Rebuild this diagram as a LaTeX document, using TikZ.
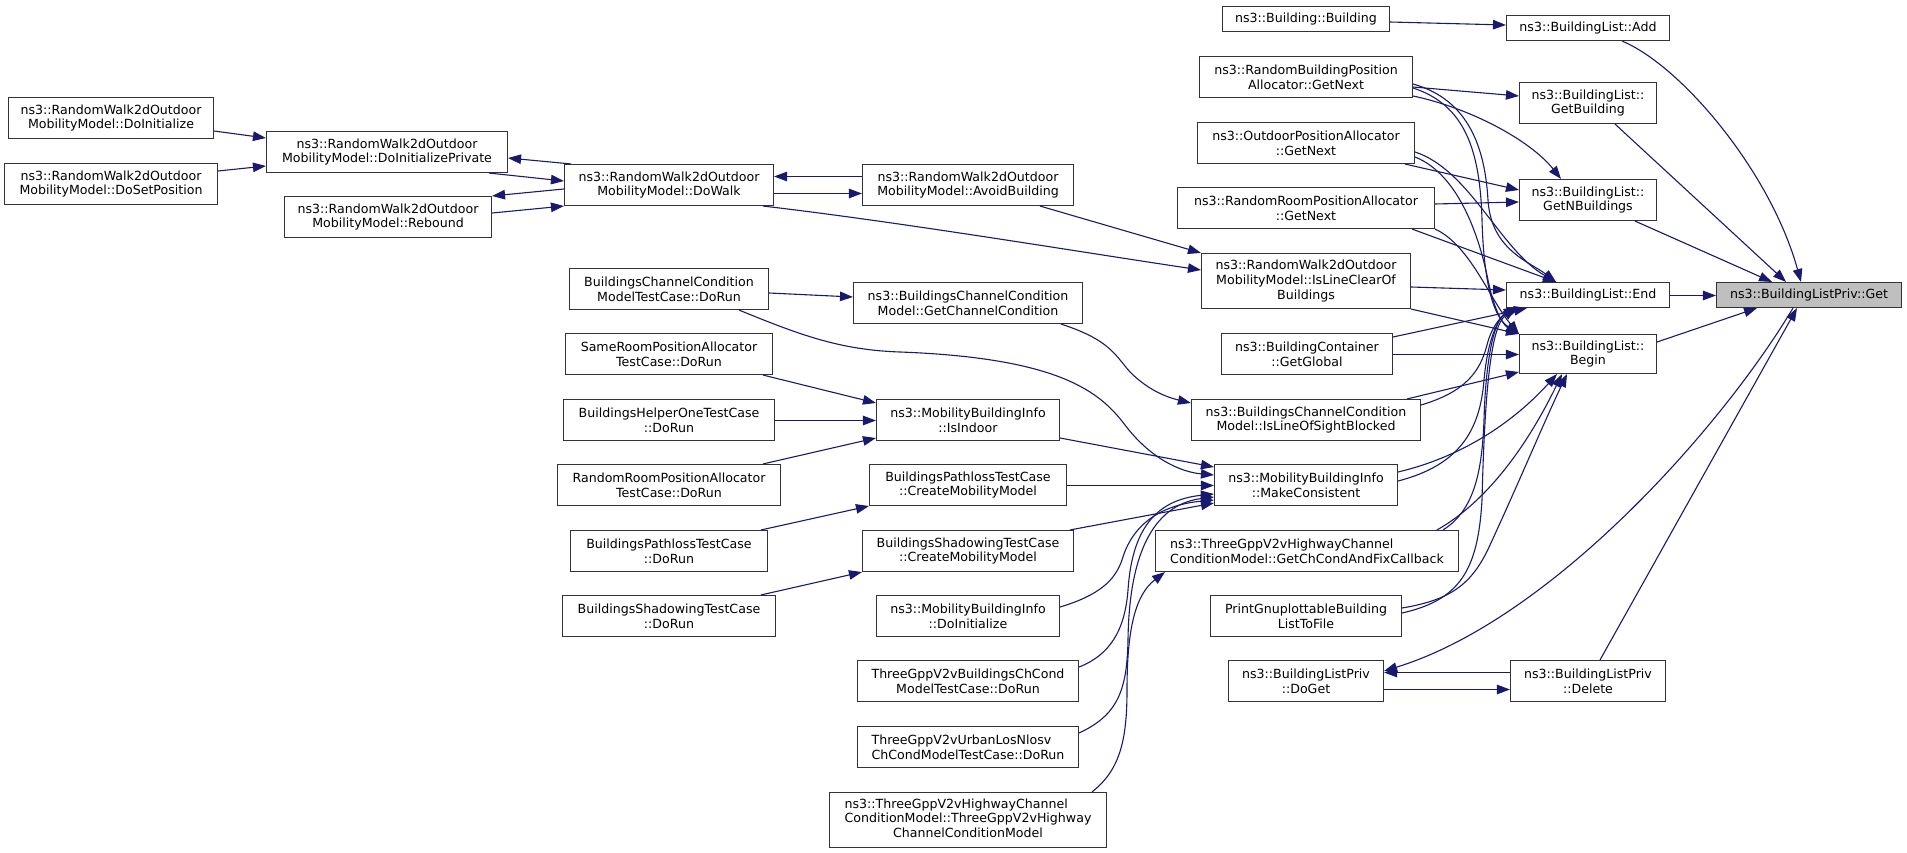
\documentclass[tikz,border=0pt]{standalone}
\usepackage{fontspec}
\setmainfont{DejaVu Sans}
\usetikzlibrary{arrows.meta}
\definecolor{navyblue}{HTML}{191970}
\definecolor{getgray}{HTML}{BFBFBF}
\definecolor{boxline}{HTML}{333333}
\newcommand\fnfont{\fontsize{12.6}{14.8}\selectfont}
\tikzset{
  fn/.style={draw=boxline, line width=1.1pt, rectangle, inner sep=0pt, align=center, font=\fnfont, fill=white},
  sz/.style 2 args={minimum width=#1pt, minimum height=#2pt},
  callarrow/.style={draw=navyblue, line width=1.1pt, -{Triangle[length=13pt,width=9.5pt]}},
}
\begin{document}
\begin{tikzpicture}[x=1pt,y=-1pt]
\fill[white] (0,0) rectangle (1907,853);
\useasboundingbox (0,0) rectangle (1907,853);

% rank 0 / 1
\node[fn, sz={185}{25}, fill=getgray] (get) at (1809,295) {ns3::BuildingListPriv::Get};
\node[fn, sz={163}{25}] (add) at (1588,28) {ns3::BuildingList::Add};
\node[fn, sz={137}{41}] (getb) at (1588,103) {ns3::BuildingList::\\GetBuilding};
\node[fn, sz={137}{41}] (getnb) at (1588,200) {ns3::BuildingList::\\GetNBuildings};
\node[fn, sz={163}{25}] (endn) at (1588,295) {ns3::BuildingList::End};
\node[fn, sz={137}{39}] (begin) at (1588,354) {ns3::BuildingList::\\Begin};
\node[fn, sz={155}{41}] (del) at (1588,681) {ns3::BuildingListPriv\\::Delete};

% rank 2
\node[fn, sz={167}{25}] (bb) at (1306,19) {ns3::Building::Building};
\node[fn, sz={213}{41}] (rbpa) at (1306,77) {ns3::RandomBuildingPosition\\Allocator::GetNext};
\node[fn, sz={217}{41}] (opa) at (1306,143) {ns3::OutdoorPositionAllocator\\::GetNext};
\node[fn, sz={257}{41}] (rrpa) at (1306,208) {ns3::RandomRoomPositionAllocator\\::GetNext};
\node[fn, sz={209}{55}] (ilc) at (1306,281) {ns3::RandomWalk2dOutdoor\\MobilityModel::IsLineClearOf\\Buildings};
\node[fn, sz={171}{41}] (glob) at (1307,354) {ns3::BuildingContainer\\::GetGlobal};
\node[fn, sz={229}{41}] (los) at (1306,420) {ns3::BuildingsChannelCondition\\Model::IsLineOfSightBlocked};
\node[fn, sz={183}{41}] (mc) at (1306,485) {ns3::MobilityBuildingInfo\\::MakeConsistent};
\node[fn, sz={303}{41}, align=left] (gcc) at (1307,551) {ns3::ThreeGppV2vHighwayChannel\\ConditionModel::GetChCondAndFixCallback};
\node[fn, sz={191}{41}] (pgf) at (1306,616) {PrintGnuplottableBuilding\\ListToFile};
\node[fn, sz={155}{41}] (doget) at (1306,681) {ns3::BuildingListPriv\\::DoGet};

% rank 3
\node[fn, sz={211}{41}] (avoid) at (968,185) {ns3::RandomWalk2dOutdoor\\MobilityModel::AvoidBuilding};
\node[fn, sz={229}{41}] (gchc) at (968,303) {ns3::BuildingsChannelCondition\\Model::GetChannelCondition};
\node[fn, sz={183}{41}] (indoor) at (968,420) {ns3::MobilityBuildingInfo\\::IsIndoor};
\node[fn, sz={197}{41}] (bpcm) at (968,485) {BuildingsPathlossTestCase\\::CreateMobilityModel};
\node[fn, sz={211}{41}] (bscm) at (968,551) {BuildingsShadowingTestCase\\::CreateMobilityModel};
\node[fn, sz={183}{41}] (mbid) at (968,616) {ns3::MobilityBuildingInfo\\::DoInitialize};
\node[fn, sz={221}{41}] (tgb) at (968,681) {ThreeGppV2vBuildingsChCond\\ModelTestCase::DoRun};
\node[fn, sz={221}{41}, align=left] (tgu) at (968,747) {ThreeGppV2vUrbanLosNlosv\\ChCondModelTestCase::DoRun};
\node[fn, sz={277}{55}] (tgh) at (968,820) {\begin{tabular}{@{}l@{}}ns3::ThreeGppV2vHighwayChannel\\ConditionModel::ThreeGppV2vHighway\\\multicolumn{1}{@{}c@{}}{ChannelConditionModel}\end{tabular}};

% rank 4
\node[fn, sz={209}{41}] (walk) at (669,185) {ns3::RandomWalk2dOutdoor\\MobilityModel::DoWalk};
\node[fn, sz={199}{41}] (bcct) at (669,289) {BuildingsChannelCondition\\ModelTestCase::DoRun};
\node[fn, sz={207}{41}] (srpa) at (669,354) {SameRoomPositionAllocator\\TestCase::DoRun};
\node[fn, sz={211}{41}] (bho) at (669,420) {BuildingsHelperOneTestCase\\::DoRun};
\node[fn, sz={223}{41}] (rrpt) at (669,485) {RandomRoomPositionAllocator\\TestCase::DoRun};
\node[fn, sz={197}{41}] (bpt) at (669,551) {BuildingsPathlossTestCase\\::DoRun};
\node[fn, sz={213}{41}] (bst) at (669,616) {BuildingsShadowingTestCase\\::DoRun};

% rank 5 / 6
\node[fn, sz={241}{41}] (dip) at (387,152) {ns3::RandomWalk2dOutdoor\\MobilityModel::DoInitializePrivate};
\node[fn, sz={207}{41}] (reb) at (388,217) {ns3::RandomWalk2dOutdoor\\MobilityModel::Rebound};
\node[fn, sz={205}{41}] (dini) at (111,118) {ns3::RandomWalk2dOutdoor\\MobilityModel::DoInitialize};
\node[fn, sz={213}{41}] (dsp) at (111,184) {ns3::RandomWalk2dOutdoor\\MobilityModel::DoSetPosition};

% left cluster edges
\draw[callarrow] (dini.east |- 0,131) -- (dip.west |- 0,138);
\draw[callarrow] (dsp.east |- 0,171) -- (dip.west |- 0,166);
\draw[callarrow] (571,0 |- walk.north) -- (dip.east |- 0,158);
\draw[callarrow] (489,0 |- dip.south) -- (walk.west |- 0,181);
\draw[callarrow] (walk.west |- 0,189) -- (reb.north east);
\draw[callarrow] (reb.east |- 0,213) -- (walk.south west);
\draw[callarrow] (avoid.west |- 0,176.5) -- (walk.east |- 0,176.5);
\draw[callarrow] (walk.east |- 0,193.5) -- (avoid.west |- 0,193.5);
\draw[callarrow] (763,0 |- walk.south) .. controls (900,222) and (1080,252) .. (ilc.west |- 0,270);
\draw[callarrow] (1040,0 |- avoid.south) -- (ilc.north west);

\draw[callarrow] (bcct.east |- 0,293) -- (gchc.west |- 0,297);
\draw[callarrow] (739,0 |- bcct.south) .. controls (800,335) and (840,350) .. (900,352) .. controls (1060,358) and (1100,392) .. (1125,425) .. controls (1150,458) and (1180,472) .. (mc.west |- 0,475);
\draw[callarrow] (1061,0 |- gchc.south) .. controls (1110,340) and (1115,355) .. (1130,372) .. controls (1150,392) and (1170,398) .. (los.west |- 0,403);
\draw[callarrow] (763,0 |- srpa.south) -- (indoor.west |- 0,403);
\draw[callarrow] (bho.east |- 0,420.5) -- (indoor.west |- 0,420.5);
\draw[callarrow] (763,0 |- rrpt.north) -- (indoor.west |- 0,438);
\draw[callarrow] (indoor.east |- 0,438) -- (mc.west |- 0,467);
\draw[callarrow] (bpcm.east |- 0,485.5) -- (mc.west |- 0,485.5);
\draw[callarrow] (1070,0 |- bscm.north) -- (mc.west |- 0,503);
\draw[callarrow] (761,0 |- bpt.north) -- (bpcm.south west);
\draw[callarrow] (761,0 |- bst.north) -- (bscm.south west);
\draw[callarrow] (mbid.east |- 0,607) .. controls (1100,595) and (1115,580) .. (1122,560) .. controls (1132,525) and (1160,505) .. (mc.west |- 0,500);
\draw[callarrow] (tgb.east |- 0,667) .. controls (1110,655) and (1125,630) .. (1128,590) .. controls (1132,530) and (1155,500) .. (mc.west |- 0,494);
\draw[callarrow] (tgu.east |- 0,733) .. controls (1118,715) and (1127,690) .. (1128,640) .. controls (1129,560) and (1150,505) .. (mc.west |- 0,497);
\draw[callarrow] (1092,0 |- tgh.north) .. controls (1120,770) and (1127,740) .. (1127,690) .. controls (1127,630) and (1135,595) .. (1165,0 |- gcc.south);

% right cluster edges
\draw[callarrow] (bb.east |- 0,22) -- (add.west |- 0,25);
\draw[callarrow] (rbpa.east |- 0,87) -- (getb.west |- 0,96);
\draw[callarrow] (rbpa.east |- 0,96) .. controls (1470,108) and (1530,140) .. (1561,0 |- getnb.north);
\draw[callarrow] (rbpa.east |- 0,84) .. controls (1470,100) and (1485,150) .. (1488,200) .. controls (1491,250) and (1530,262) .. (1556,0 |- endn.north);
\draw[callarrow] (rbpa.east |- 0,88) .. controls (1465,105) and (1480,150) .. (1482,220) .. controls (1484,290) and (1495,318) .. (begin.north west);
\draw[callarrow] (1405,0 |- opa.south) -- (getnb.west |- 0,190);
\draw[callarrow] (rrpa.east |- 0,204) -- (getnb.west |- 0,202);
\draw[callarrow] (opa.east |- 0,152) .. controls (1470,170) and (1500,250) .. (1556,0 |- endn.north);
\draw[callarrow] (opa.east |- 0,157) .. controls (1460,175) and (1480,240) .. (1488,280) .. controls (1494,310) and (1503,325) .. (begin.north west);
\draw[callarrow] (1412,0 |- rrpa.south) -- (1556,0 |- endn.north);
\draw[callarrow] (rrpa.south east) .. controls (1470,245) and (1490,300) .. (begin.north west);
\draw[callarrow] (ilc.east |- 0,287) -- (endn.west |- 0,290);
\draw[callarrow] (ilc.south east) -- (begin.north west);
\draw[callarrow] (glob.east |- 0,337) -- (1527,0 |- endn.south);
\draw[callarrow] (glob.east |- 0,354.5) -- (begin.west |- 0,354.5);
\draw[callarrow] (1407,0 |- los.north) -- (begin.west |- 0,372);
\draw[callarrow] (los.east |- 0,405) .. controls (1465,392) and (1480,372) .. (1487,345) .. controls (1492,325) and (1503,314) .. (1520,0 |- endn.south);
\draw[callarrow] (mc.east |- 0,472) .. controls (1470,455) and (1520,415) .. (1557,0 |- begin.south);
\draw[callarrow] (mc.east |- 0,481) .. controls (1460,465) and (1480,430) .. (1484,380) .. controls (1488,335) and (1500,316) .. (1518,0 |- endn.south);
\draw[callarrow] (1437,0 |- gcc.north) .. controls (1490,500) and (1530,440) .. (1562,0 |- begin.south);
\draw[callarrow] (1443,0 |- gcc.north) .. controls (1475,510) and (1482,470) .. (1484,420) .. controls (1486,350) and (1496,318) .. (1517,0 |- endn.south);
\draw[callarrow] (pgf.east |- 0,608) .. controls (1450,600) and (1472,585) .. (1490,545) .. controls (1520,480) and (1545,420) .. (1567,0 |- begin.south);
\draw[callarrow] (pgf.east |- 0,613) .. controls (1460,600) and (1478,570) .. (1482,500) .. controls (1485,380) and (1492,325) .. (1516,0 |- endn.south);

% into Get
\draw[callarrow] (1622,0 |- add.south) .. controls (1680,65) and (1770,170) .. (1801,0 |- get.north);
\draw[callarrow] (1615,0 |- getb.south) -- (1786,0 |- get.north);
\draw[callarrow] (1635,0 |- getnb.south) -- (1772,0 |- get.north);
\draw[callarrow] (endn.east |- 0,295.5) -- (get.west |- 0,295.5);
\draw[callarrow] (begin.east |- 0,342) -- (1757,0 |- get.south);
\draw[callarrow] (1600,0 |- del.north) -- (1797,0 |- get.south);
\draw[callarrow] (1793,0 |- get.south) .. controls (1720,430) and (1550,620) .. (doget.east |- 0,671);
\draw[callarrow] (del.west |- 0,672.5) -- (doget.east |- 0,672.5);
\draw[callarrow] (doget.east |- 0,689.5) -- (del.west |- 0,689.5);
\end{tikzpicture}
\end{document}
